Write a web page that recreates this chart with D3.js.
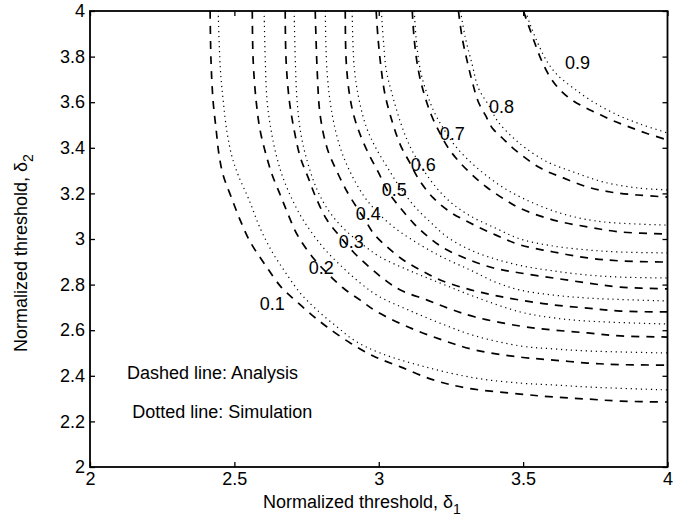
<!DOCTYPE html>
<html><head><meta charset="utf-8">
<script src="https://cdn.jsdelivr.net/npm/d3@7"></script>
<style>
body{margin:0;background:#fff}
svg{display:block}
text{font-family:"Liberation Sans",Arial,Helvetica,sans-serif;fill:#000}
</style></head>
<body><svg id="c" width="683" height="523"></svg>
<script>
const xTicks=[2,2.5,3,3.5,4];
const yTicks=[2,2.2,2.4,2.6,2.8,3,3.2,3.4,3.6,3.8,4];
const levels=[0.1,0.2,0.3,0.4,0.5,0.6,0.7,0.8,0.9];
const labelX=[2.631,2.801,2.905,2.964,3.054,3.154,3.255,3.425,3.688];
const labelY=[2.719,2.877,2.991,3.110,3.215,3.325,3.461,3.583,3.772];

const ana1=[[2.416,4.000],[2.419,3.785],[2.426,3.610],[2.437,3.478],[2.447,3.368],[2.461,3.281],[2.489,3.184],[2.520,3.083],[2.555,2.987],[2.607,2.886],[2.662,2.789],[2.717,2.724],[2.773,2.662],[2.821,2.614],[2.901,2.544],[2.981,2.487],[3.075,2.439],[3.189,2.382],[3.307,2.346],[3.490,2.320],[3.605,2.307],[3.723,2.298],[3.837,2.289],[4.000,2.285]];
const sim1=[[2.444,4.000],[2.451,3.754],[2.461,3.610],[2.475,3.465],[2.492,3.360],[2.513,3.281],[2.551,3.171],[2.589,3.048],[2.631,2.943],[2.676,2.855],[2.728,2.763],[2.790,2.684],[2.856,2.614],[2.918,2.553],[3.005,2.500],[3.161,2.439],[3.335,2.390],[3.490,2.368],[3.605,2.360],[3.723,2.351],[4.000,2.338]];
const ana2=[[2.562,4.000],[2.565,3.785],[2.575,3.610],[2.589,3.478],[2.610,3.368],[2.631,3.281],[2.659,3.193],[2.683,3.118],[2.718,3.018],[2.773,2.917],[2.821,2.851],[2.877,2.785],[2.936,2.732],[2.995,2.680],[3.102,2.614],[3.220,2.557],[3.334,2.513],[3.490,2.482],[3.605,2.469],[3.723,2.456],[3.837,2.449],[4.000,2.447]];
const sim2=[[2.603,4.000],[2.607,3.785],[2.613,3.610],[2.627,3.478],[2.645,3.368],[2.665,3.281],[2.693,3.193],[2.728,3.105],[2.769,3.026],[2.815,2.952],[2.877,2.873],[2.936,2.807],[2.998,2.750],[3.102,2.689],[3.220,2.627],[3.334,2.575],[3.490,2.531],[3.605,2.518],[3.723,2.509],[4.000,2.500]];
const ana3=[[2.676,4.000],[2.679,3.785],[2.690,3.610],[2.707,3.478],[2.728,3.360],[2.756,3.268],[2.783,3.180],[2.821,3.083],[2.867,3.009],[2.912,2.943],[2.971,2.873],[3.022,2.820],[3.075,2.776],[3.168,2.732],[3.248,2.693],[3.334,2.658],[3.490,2.618],[3.605,2.601],[3.723,2.588],[3.837,2.575],[4.000,2.570]];
const sim3=[[2.707,4.000],[2.711,3.785],[2.717,3.610],[2.731,3.456],[2.756,3.325],[2.790,3.206],[2.832,3.114],[2.884,3.039],[2.946,2.974],[3.005,2.921],[3.109,2.860],[3.220,2.803],[3.334,2.746],[3.490,2.680],[3.605,2.654],[3.723,2.640],[4.000,2.627]];
const ana4=[[2.780,4.000],[2.787,3.732],[2.797,3.544],[2.821,3.399],[2.856,3.294],[2.891,3.206],[2.925,3.136],[2.953,3.083],[2.981,3.026],[3.029,2.965],[3.085,2.908],[3.144,2.864],[3.213,2.820],[3.307,2.781],[3.397,2.754],[3.490,2.732],[3.605,2.711],[3.723,2.697],[3.837,2.684],[4.000,2.680]];
const sim4=[[2.815,4.000],[2.821,3.732],[2.839,3.544],[2.867,3.399],[2.901,3.294],[2.946,3.193],[2.991,3.123],[3.047,3.057],[3.116,2.996],[3.213,2.925],[3.317,2.864],[3.404,2.811],[3.490,2.776],[3.605,2.754],[3.723,2.741],[4.000,2.728]];
const ana5=[[2.884,4.000],[2.887,3.785],[2.898,3.640],[2.915,3.535],[2.939,3.447],[2.967,3.368],[2.998,3.294],[3.033,3.206],[3.075,3.136],[3.120,3.070],[3.168,3.013],[3.224,2.961],[3.307,2.912],[3.397,2.873],[3.490,2.851],[3.605,2.829],[3.723,2.807],[3.837,2.789],[4.000,2.781]];
const sim5=[[2.908,4.000],[2.915,3.754],[2.932,3.610],[2.957,3.491],[2.988,3.404],[3.029,3.316],[3.075,3.224],[3.126,3.140],[3.178,3.075],[3.237,3.009],[3.317,2.952],[3.404,2.912],[3.497,2.882],[3.605,2.860],[3.723,2.842],[3.837,2.833],[4.000,2.829]];
const ana6=[[2.991,4.000],[2.998,3.873],[3.009,3.741],[3.022,3.632],[3.047,3.513],[3.075,3.412],[3.106,3.338],[3.140,3.259],[3.189,3.180],[3.248,3.118],[3.317,3.070],[3.404,3.018],[3.490,2.974],[3.605,2.943],[3.723,2.917],[3.837,2.904],[4.000,2.899]];
const sim6=[[3.009,4.000],[3.016,3.873],[3.026,3.741],[3.047,3.632],[3.075,3.513],[3.106,3.412],[3.144,3.325],[3.192,3.237],[3.248,3.162],[3.317,3.101],[3.404,3.048],[3.490,3.000],[3.605,2.969],[3.723,2.952],[3.837,2.943],[4.000,2.939]];
const ana7=[[3.116,4.000],[3.123,3.873],[3.137,3.741],[3.158,3.632],[3.182,3.544],[3.210,3.469],[3.241,3.399],[3.279,3.338],[3.324,3.281],[3.373,3.228],[3.428,3.180],[3.487,3.136],[3.605,3.083],[3.723,3.053],[3.837,3.031],[4.000,3.022]];
const sim7=[[3.123,4.000],[3.130,3.873],[3.144,3.741],[3.165,3.645],[3.192,3.557],[3.227,3.478],[3.265,3.408],[3.310,3.347],[3.366,3.285],[3.428,3.228],[3.497,3.180],[3.577,3.136],[3.664,3.101],[3.778,3.075],[4.000,3.061]];
const ana8=[[3.276,4.000],[3.289,3.882],[3.307,3.776],[3.324,3.689],[3.345,3.601],[3.369,3.544],[3.393,3.487],[3.428,3.443],[3.473,3.390],[3.560,3.311],[3.639,3.268],[3.723,3.228],[3.802,3.206],[3.896,3.193],[4.000,3.184]];
const sim8=[[3.283,4.000],[3.300,3.882],[3.324,3.763],[3.345,3.662],[3.380,3.588],[3.414,3.513],[3.463,3.447],[3.508,3.399],[3.584,3.338],[3.674,3.294],[3.778,3.250],[3.896,3.224],[4.000,3.215]];
const ana9=[[3.501,4.000],[3.518,3.939],[3.539,3.864],[3.563,3.785],[3.591,3.715],[3.622,3.662],[3.660,3.618],[3.705,3.583],[3.754,3.553],[3.806,3.522],[3.858,3.496],[3.924,3.465],[4.000,3.434]];
const sim9=[[3.508,4.000],[3.525,3.939],[3.549,3.864],[3.584,3.776],[3.619,3.719],[3.674,3.662],[3.743,3.601],[3.827,3.544],[3.906,3.504],[4.000,3.465]];

const analysisCurves=[ana1,ana2,ana3,ana4,ana5,ana6,ana7,ana8,ana9];
const simulationCurves=[sim1,sim2,sim3,sim4,sim5,sim6,sim7,sim8,sim9];

const notes=["Dashed line: Analysis","Dotted line: Simulation"];
const noteX=[2.128,2.146];
const noteY=[2.386,2.215];

const W=683,H=523;
const m={l:90,r:15.5,t:11,b:56};
const svg=d3.select("#c");
const x=d3.scaleLinear().domain([2,4]).range([m.l,W-m.r]);
const y=d3.scaleLinear().domain([2,4]).range([H-m.b,m.t]);
const FS=18;

svg.append("defs").append("clipPath").attr("id","clip").append("rect")
  .attr("x",m.l).attr("y",m.t).attr("width",x(4)-x(2)).attr("height",y(2)-y(4));

const line=d3.line().x(d=>x(d[0])).y(d=>y(d[1])).curve(d3.curveCatmullRom.alpha(0.5));
const g=svg.append("g").attr("clip-path","url(#clip)");
g.selectAll("path.sim").data(simulationCurves).join("path").attr("class","sim")
  .attr("d",line).attr("fill","none").attr("stroke","#000").attr("stroke-width",1.2)
  .attr("stroke-dasharray","1.2,3.8");
g.selectAll("path.ana").data(analysisCurves).join("path").attr("class","ana")
  .attr("d",line).attr("fill","none").attr("stroke","#000").attr("stroke-width",1.7)
  .attr("stroke-dasharray","8,7");

// axes (inward ticks on all sides)
const fmt=d=>String(+d.toFixed(1));
const ax=[
  [d3.axisBottom(x).tickValues(xTicks).tickFormat(fmt),`translate(0,${y(2)})`],
  [d3.axisTop(x).tickValues(xTicks).tickFormat(""),`translate(0,${y(4)})`],
  [d3.axisLeft(y).tickValues(yTicks).tickFormat(fmt),`translate(${x(2)},0)`],
  [d3.axisRight(y).tickValues(yTicks).tickFormat(""),`translate(${x(4)},0)`]
];
ax.forEach(([a,t])=>{
  const gg=svg.append("g").attr("transform",t)
    .call(a.tickSizeInner(-5).tickSizeOuter(0).tickPadding(5));
  gg.select(".domain").remove();
  gg.selectAll("line").attr("stroke","#000").attr("stroke-width",1.3);
  gg.selectAll("text").attr("font-size",FS).attr("font-family",null).attr("fill","#000");
});
svg.append("rect").attr("x",x(2)).attr("y",y(4)).attr("width",x(4)-x(2)).attr("height",y(2)-y(4))
  .attr("fill","none").attr("stroke","#000").attr("stroke-width",1.8);

// contour labels
svg.selectAll("text.lev").data(levels).join("text").attr("class","lev")
  .attr("x",(d,i)=>x(labelX[i])).attr("y",(d,i)=>y(labelY[i])).attr("dy","0.36em")
  .attr("text-anchor","middle").attr("font-size",FS).text(d=>d.toFixed(1));

// notes
svg.selectAll("text.note").data(notes).join("text").attr("class","note")
  .attr("x",(d,i)=>x(noteX[i])).attr("y",(d,i)=>y(noteY[i])).attr("font-size",FS).text(d=>d);

// axis titles
const xt=svg.append("text").attr("x",263).attr("y",508).attr("font-size",FS);
xt.append("tspan").text("Normalized threshold, δ");
xt.append("tspan").attr("dy",6).attr("font-size",14).text("1");
const yt=svg.append("text").attr("transform",`translate(27,352) rotate(-90)`).attr("font-size",FS);
yt.append("tspan").text("Normalized threshold, δ");
yt.append("tspan").attr("dy",6).attr("font-size",14).text("2");
</script></body></html>
